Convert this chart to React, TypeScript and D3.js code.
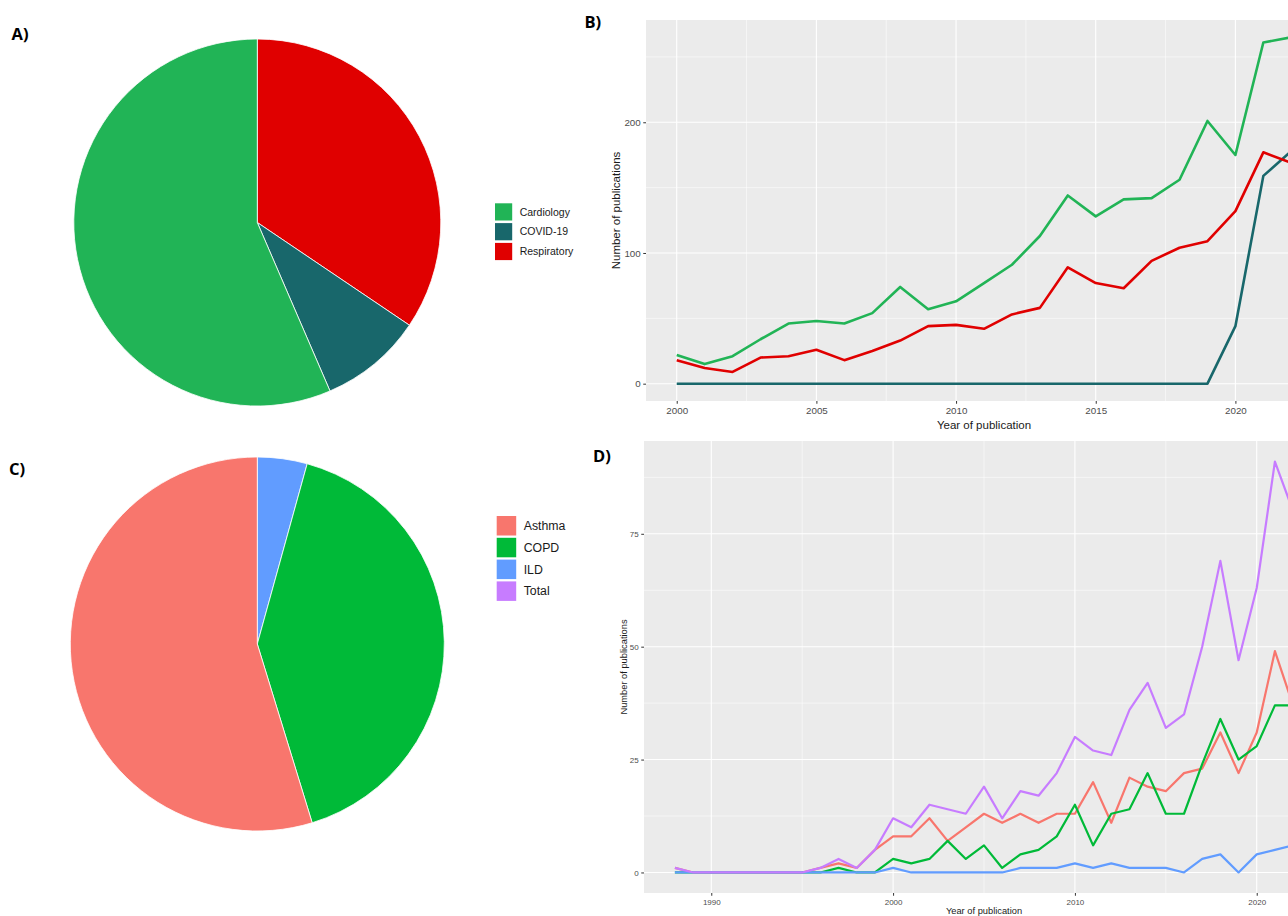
import { useEffect, useRef } from 'react';
import * as d3 from 'd3';

// panel B: publications per year by specialty
const yearsB = [2000, 2001, 2002, 2003, 2004, 2005, 2006, 2007, 2008, 2009, 2010, 2011,
  2012, 2013, 2014, 2015, 2016, 2017, 2018, 2019, 2020, 2021, 2022];
const cardiology = [22, 15, 21, 34, 46, 48, 46, 54, 74, 57, 63, 77, 91, 113, 144, 128, 141, 142, 156, 201, 175, 261, 265];
const respiratory = [18, 12, 9, 20, 21, 26, 18, 25, 33, 44, 45, 42, 53, 58, 89, 77, 73, 94, 104, 109, 132, 177, 169];
const covid = [0, 0, 0, 0, 0, 0, 0, 0, 0, 0, 0, 0, 0, 0, 0, 0, 0, 0, 0, 0, 44, 159, 178];

// panel D: respiratory publications per year by disease
const yearsD = [1988, 1989, 1990, 1991, 1992, 1993, 1994, 1995, 1996, 1997, 1998, 1999,
  2000, 2001, 2002, 2003, 2004, 2005, 2006, 2007, 2008, 2009, 2010, 2011, 2012, 2013,
  2014, 2015, 2016, 2017, 2018, 2019, 2020, 2021, 2022];
const asthma = [1, 0, 0, 0, 0, 0, 0, 0, 1, 2, 1, 5, 8, 8, 12, 7, 10, 13, 11, 13, 11, 13,
  13, 20, 11, 21, 19, 18, 22, 23, 31, 22, 31, 49, 37];
const copd = [0, 0, 0, 0, 0, 0, 0, 0, 0, 1, 0, 0, 3, 2, 3, 7, 3, 6, 1, 4, 5, 8,
  15, 6, 13, 14, 22, 13, 13, 24, 34, 25, 28, 37, 37];
const ild = [0, 0, 0, 0, 0, 0, 0, 0, 0, 0, 0, 0, 1, 0, 0, 0, 0, 0, 0, 1, 1, 1,
  2, 1, 2, 1, 1, 1, 0, 3, 4, 0, 4, 5, 6];
const total = [1, 0, 0, 0, 0, 0, 0, 0, 1, 3, 1, 5, 12, 10, 15, 14, 13, 19, 12, 18, 17, 22,
  30, 27, 26, 36, 42, 32, 35, 50, 69, 47, 63, 91, 80];

const ticksBx = [2000, 2005, 2010, 2015, 2020];
const minorBx = [2002.5, 2007.5, 2012.5, 2017.5, 2022.5];
const ticksBy = [0, 100, 200];
const minorBy = [50, 150, 250];
const ticksDx = [1990, 2000, 2010, 2020];
const minorDx = [1995, 2005, 2015];
const ticksDy = [0, 25, 50, 75];
const minorDy = [12.5, 37.5, 62.5, 87.5];

const specialtyNames = ['Cardiology', 'COVID-19', 'Respiratory'];
const specialtyColors = ['#21b456', '#18676b', '#e00000'];
const diseaseNames = ['Asthma', 'COPD', 'ILD', 'Total'];
const diseaseColors = ['#F8766D', '#00BA38', '#619CFF', '#C77CFF'];

const FONT = '"Liberation Sans", Arial, sans-serif';

type Series = { name: string; color: string; values: number[] };

// ggplot-style 5% expansion
function expand([lo, hi]: [number, number]): [number, number] {
  const pad = (hi - lo) * 0.05;
  return [lo - pad, hi + pad];
}

function drawPie(
  svg: d3.Selection<SVGSVGElement, unknown, null, undefined>,
  cx: number, cy: number, r: number,
  slices: { name: string; color: string; value: number }[],
) {
  const arcs = d3.pie<{ name: string; color: string; value: number }>()
    .sort(null)
    .value((d) => d.value)(slices);
  const arc = d3.arc<d3.PieArcDatum<{ name: string; color: string; value: number }>>()
    .innerRadius(0)
    .outerRadius(r);
  svg.append('g')
    .attr('transform', `translate(${cx},${cy})`)
    .selectAll('path')
    .data(arcs)
    .join('path')
    .attr('d', arc)
    .attr('fill', (d) => d.data.color)
    .attr('stroke', '#ffffff')
    .attr('stroke-width', 0.8);
}

function drawLegend(
  svg: d3.Selection<SVGSVGElement, unknown, null, undefined>,
  x: number, y: number, key: number, step: number, fontSize: number,
  names: string[], colors: string[],
) {
  const g = svg.append('g').attr('transform', `translate(${x},${y})`);
  names.forEach((name, i) => {
    g.append('rect')
      .attr('x', 0).attr('y', i * step)
      .attr('width', key).attr('height', key)
      .attr('fill', colors[i]);
    g.append('text')
      .attr('x', key + 7.5).attr('y', i * step + key / 2)
      .attr('dy', '0.35em')
      .attr('font-family', FONT)
      .attr('font-size', fontSize)
      .attr('fill', '#1a1a1a')
      .text(name);
  });
}

function drawLines(
  svg: d3.Selection<SVGSVGElement, unknown, null, undefined>,
  opts: {
    left: number; right: number; top: number; bottom: number;
    years: number[]; series: Series[];
    xTicks: number[]; xMinor: number[]; yTicks: number[]; yMinor: number[];
    tickFont: number; titleFont: number; lineWidth: number;
    xTitleY: number; yTitleX: number;
  },
) {
  const { left, right, top, bottom, years, series } = opts;
  const allValues = series.flatMap((s) => s.values);
  const x = d3.scaleLinear()
    .domain(expand(d3.extent(years) as [number, number]))
    .range([left, right]);
  const y = d3.scaleLinear()
    .domain(expand([d3.min(allValues) ?? 0, d3.max(allValues) ?? 1]))
    .range([bottom, top]);

  const g = svg.append('g');
  g.append('rect')
    .attr('x', left).attr('y', top)
    .attr('width', right - left).attr('height', bottom - top)
    .attr('fill', '#ebebeb');

  const grid = g.append('g').attr('stroke', '#ffffff');
  grid.selectAll('.minor-x').data(opts.xMinor).join('line')
    .attr('x1', (d) => x(d)).attr('x2', (d) => x(d))
    .attr('y1', top).attr('y2', bottom).attr('stroke-width', 0.55);
  grid.selectAll('.minor-y').data(opts.yMinor).join('line')
    .attr('y1', (d) => y(d)).attr('y2', (d) => y(d))
    .attr('x1', left).attr('x2', right).attr('stroke-width', 0.55);
  grid.selectAll('.major-x').data(opts.xTicks).join('line')
    .attr('x1', (d) => x(d)).attr('x2', (d) => x(d))
    .attr('y1', top).attr('y2', bottom).attr('stroke-width', 1.1);
  grid.selectAll('.major-y').data(opts.yTicks).join('line')
    .attr('y1', (d) => y(d)).attr('y2', (d) => y(d))
    .attr('x1', left).attr('x2', right).attr('stroke-width', 1.1);

  const line = d3.line<number>()
    .x((_d, i) => x(years[i]))
    .y((d) => y(d));
  g.append('g')
    .selectAll('path')
    .data(series)
    .join('path')
    .attr('d', (s) => line(s.values))
    .attr('fill', 'none')
    .attr('stroke', (s) => s.color)
    .attr('stroke-width', opts.lineWidth)
    .attr('stroke-linejoin', 'round');

  const xAxis = g.append('g')
    .attr('transform', `translate(0,${bottom})`)
    .call(d3.axisBottom(x).tickValues(opts.xTicks).tickFormat(d3.format('d')).tickSize(2.75).tickPadding(3.5));
  const yAxis = g.append('g')
    .attr('transform', `translate(${left},0)`)
    .call(d3.axisLeft(y).tickValues(opts.yTicks).tickFormat(d3.format('d')).tickSize(2.75).tickPadding(2.5));
  [xAxis, yAxis].forEach((ax) => {
    ax.select('.domain').remove();
    ax.selectAll('line').attr('stroke', '#333333').attr('stroke-width', 1);
    ax.selectAll('text')
      .attr('font-family', FONT)
      .attr('font-size', opts.tickFont)
      .attr('fill', '#4d4d4d');
  });

  g.append('text')
    .attr('x', (left + right) / 2).attr('y', opts.xTitleY)
    .attr('text-anchor', 'middle')
    .attr('font-family', FONT).attr('font-size', opts.titleFont)
    .attr('fill', '#1a1a1a')
    .text('Year of publication');
  g.append('text')
    .attr('transform', `translate(${opts.yTitleX},${(top + bottom) / 2}) rotate(-90)`)
    .attr('text-anchor', 'middle')
    .attr('font-family', FONT).attr('font-size', opts.titleFont)
    .attr('fill', '#1a1a1a')
    .text('Number of publications');
}

export default function App() {
  const svgRef = useRef<SVGSVGElement>(null);

  useEffect(() => {
    const svg = d3.select(svgRef.current);
    if (!svg.node()) return;
    svg.selectAll('*').remove();

    const specialtySeries: Series[] = [
      { name: specialtyNames[0], color: specialtyColors[0], values: cardiology },
      { name: specialtyNames[1], color: specialtyColors[1], values: covid },
      { name: specialtyNames[2], color: specialtyColors[2], values: respiratory },
    ];
    const diseaseSeries: Series[] = [
      { name: diseaseNames[0], color: diseaseColors[0], values: asthma },
      { name: diseaseNames[1], color: diseaseColors[1], values: copd },
      { name: diseaseNames[2], color: diseaseColors[2], values: ild },
      { name: diseaseNames[3], color: diseaseColors[3], values: total },
    ];

    // A) pie of specialty totals, last level first clockwise (as coord_polar)
    drawPie(svg as any, 257.3, 222.5, 183.5,
      specialtySeries.slice().reverse().map((s) => ({ name: s.name, color: s.color, value: d3.sum(s.values) })));
    drawLegend(svg as any, 495, 203.3, 17.2, 19.8, 10.5, specialtyNames, specialtyColors);

    // C) pie of disease totals, the Total level has no slice
    drawPie(svg as any, 257.3, 644, 187,
      diseaseSeries.slice(0, 3).reverse().map((s) => ({ name: s.name, color: s.color, value: d3.sum(s.values) })));
    drawLegend(svg as any, 496.7, 516, 19.5, 21.8, 12.3, diseaseNames, diseaseColors);

    drawLines(svg as any, {
      left: 646, right: 1322, top: 20, bottom: 401,
      years: yearsB, series: specialtySeries,
      xTicks: ticksBx, xMinor: minorBx, yTicks: ticksBy, yMinor: minorBy,
      tickFont: 9.8, titleFont: 11.5, lineWidth: 2.6,
      xTitleY: 429, yTitleX: 620,
    });
    drawLines(svg as any, {
      left: 644, right: 1324, top: 441, bottom: 893,
      years: yearsD, series: diseaseSeries,
      xTicks: ticksDx, xMinor: minorDx, yTicks: ticksDy, yMinor: minorDy,
      tickFont: 8, titleFont: 9.3, lineWidth: 2.2,
      xTitleY: 914, yTitleX: 627,
    });

    const labels = [
      { text: 'A)', x: 11.5, y: 39.5 },
      { text: 'B)', x: 584.5, y: 27.5 },
      { text: 'C)', x: 9, y: 474.5 },
      { text: 'D)', x: 593, y: 462 },
    ];
    svg.append('g')
      .selectAll('text')
      .data(labels)
      .join('text')
      .attr('x', (d) => d.x).attr('y', (d) => d.y)
      .attr('font-family', '"Open Sans", sans-serif')
      .attr('font-weight', 700)
      .attr('font-size', 16.5)
      .attr('fill', '#000000')
      .text((d) => d.text);
  }, []);

  return (
    <svg
      ref={svgRef}
      width={1288}
      height={916}
      style={{ position: 'absolute', left: 0, top: 0, background: '#ffffff' }}
    />
  );
}
